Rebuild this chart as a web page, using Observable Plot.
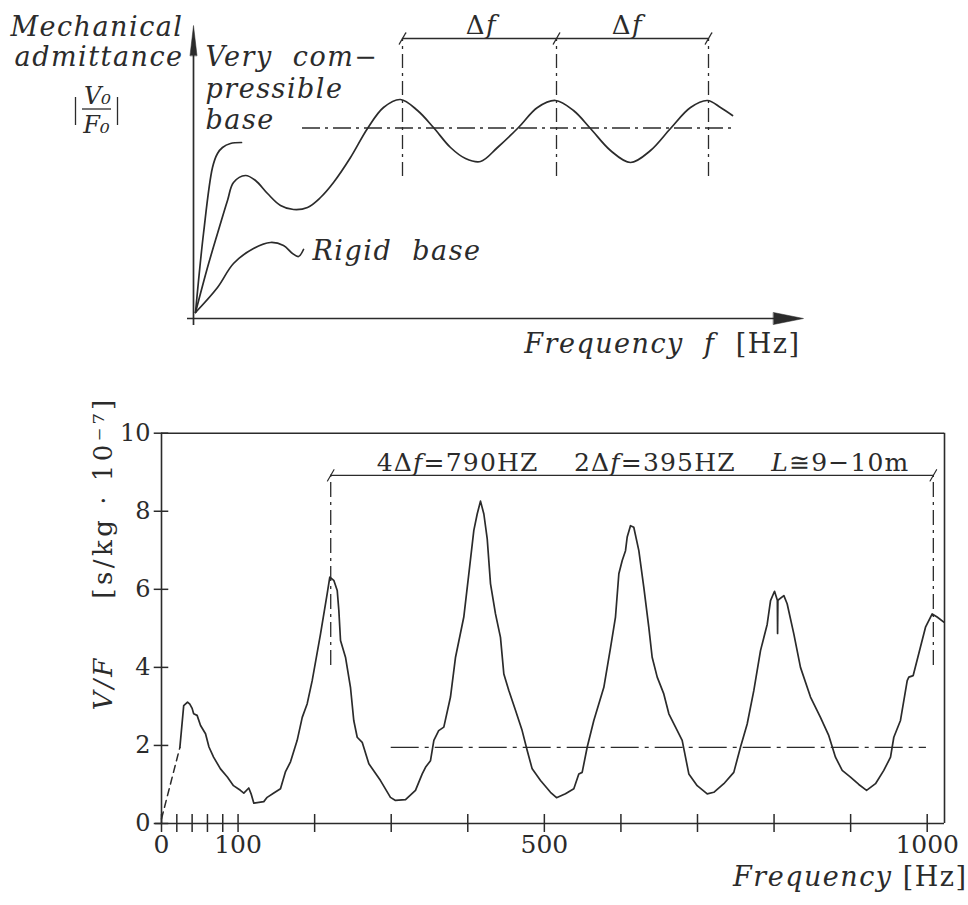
<!DOCTYPE html>
<html><head><meta charset="utf-8">
<script src="https://cdn.jsdelivr.net/npm/d3@7"></script>
<script src="https://cdn.jsdelivr.net/npm/@observablehq/plot@0.6"></script>
<style>
body{margin:0;background:#fff;}
svg{display:block;}
text{white-space:pre;}
</style></head><body><div id="topchart"></div><div id="bottomchart"></div>
<script>
// ===== Top schematic (drawing units: frequency / admittance, arbitrary) =====
const compU  = [2, 10, 19, 24, 29, 37, 48];
const compV  = [6, 85, 151, 165, 171, 175, 176];
const medU   = [2,14,24,34,40,52,62,74,87,100,114,127,140,157,174,190,207,224,240,257,272,287,304,325,344,362,380,397,417,437,457,477,497,514,527,539];
const medV   = [6,51,85,118,136,143,138,125,113,109,111,121,136,161,190,211,219,208,191,171,160,157,171,191,211,218,208,190,168,156,168,190,211,218,211,203];
const rigidU = [2, 24, 40, 60, 77, 90, 99, 105, 110];
const rigidV = [6, 31, 55, 70, 76, 73, 65, 62, 69];
const peakU  = [209, 363, 515];
const peakLineTop = 280, peakLineBottom = 142;
const meanV = 190.5, meanU = [109, 539];
const deltaLabelU = [288, 434];
const axisUmax = 610, axisVmax = 293;

// ===== Bottom: measured mechanical admittance =====
const freq = [24,29,34,37,40,42,46.5,51,57.5,62,68,77,86,94,103,107.5,114,117,120.6,133.6,138,146.7,155.4,162,168.5,177.2,183.8,190.3,196.8,207.7,216.4,219.8,225,229.5,231.6,233.8,240.3,246.8,251.1,255.6,262.1,270.8,286,299,305.6,318.7,331.7,340.5,344.8,351.3,355.7,362,368.7,377.4,384,394.8,401.4,407.9,412.3,416.6,421,425.4,429.7,436.2,442.7,447.1,453.6,462.3,471,477.6,484.1,495,508,515.9,527.6,538.5,545,549.4,556,564.6,577.7,586.4,592.9,597.3,601.7,606,608.2,612.5,616.8,623.4,629.9,636.4,640.8,647.4,656,662.6,671.3,680,688.7,699.6,712.7,721.3,734.4,747.4,756.2,764.9,773.6,782.3,791,795.4,800.6,804.3,804.6,805,812.8,817.1,825.8,834.5,847.6,860.6,871.5,880.2,889,899.8,910.7,920.8,932.5,943.3,952.1,956.4,965.1,973.9,976,981.7,991.2,997.8,1006.5,1013,1021.7];
const vf   = [1.95,3.02,3.11,3.06,2.95,2.81,2.77,2.51,2.30,1.96,1.70,1.40,1.19,0.97,0.85,0.78,0.91,0.76,0.52,0.56,0.67,0.78,0.89,1.33,1.58,2.13,2.72,3.07,3.66,4.86,5.89,6.31,6.23,5.97,5.46,4.69,4.26,3.49,2.64,2.21,2.08,1.53,1.10,0.67,0.59,0.61,0.85,1.27,1.44,1.61,2.13,2.38,2.47,3.24,4.26,5.29,6.40,7.51,7.93,8.26,7.93,7.29,6.14,5.37,4.77,3.83,3.41,2.90,2.38,1.87,1.40,1.10,0.80,0.66,0.76,0.89,1.27,1.31,1.96,2.64,3.49,4.5,5.29,6.40,6.74,6.99,7.34,7.63,7.59,6.99,6.05,5.03,4.26,3.75,3.32,2.81,2.47,2.13,1.27,0.97,0.76,0.80,1.02,1.31,1.96,2.55,3.41,4.43,5.1,5.71,5.95,5.72,4.87,5.72,5.84,5.63,4.86,4.0,3.24,2.72,2.25,1.70,1.36,1.19,1.0,0.85,1.02,1.36,1.70,2.21,2.64,3.66,3.75,3.79,4.52,5.03,5.37,5.29,5.16];
const dashFreq = [0, 24];
const dashVf   = [0.12, 1.95];
const majorTicks = [100,200,300,400,500,600,700,800,900,1000];
const minorTicks = [0,20,40,60,80];
const yTicks  = [0,2,4,6,8,10];
const xLabels = [0,100,500,1000];
const markerFreq = [221, 1008];
const markerTop = 8.92, markerBottom = 4.05;
const meanVf = 1.95, meanFreq = [300, 999];
const frameFmax = 1022.6;

const ink = "#2b2b2b";
const serif = "DejaVu Serif";

const slash = {draw(ctx, l){ ctx.moveTo(0,0); ctx.lineTo(0,-l); }};
const tri = w => ({draw(ctx, l){ ctx.moveTo(-w,0); ctx.lineTo(0,-l); ctx.lineTo(w,0); ctx.closePath(); }});

function richify(svg){
  d3.select(svg).selectAll("text").each(function(){
    const t = this.textContent;
    if (!t.includes("_")) return;
    const parts = t.split("_");
    this.textContent = "";
    parts.forEach((p,i)=>{
      if(!p) return;
      const ts = document.createElementNS("http://www.w3.org/2000/svg","tspan");
      ts.textContent = p;
      if (i % 2) ts.setAttribute("font-style","italic");
      this.appendChild(ts);
    });
  });
}
function spacing(svg, prefix, px){
  d3.select(svg).selectAll("text").filter(function(){ return this.textContent.startsWith(prefix); }).style("letter-spacing", px + "px");
}

// ---------- Top plot ----------
const med = medU.map((u,i)=>({u, v: medV[i]}));
const comp = compU.map((u,i)=>({u, v: compV[i]}));
const rigid = rigidU.map((u,i)=>({u, v: rigidV[i]}));

const labelsLeft = [
  {t:"Mechanical", u:-10, v:283},
  {t:"admittance", u:-10, v:253}
];
const labelsRight = [
  {t:"Very  com−", u:12, v:253},
  {t:"pressible", u:12, v:221},
  {t:"base", u:12, v:190},
  {t:"Rigid  base", u:119, v:59}
];

const topPlot = Plot.plot({
  width: 968, height: 370,
  marginTop: 0, marginRight: 0, marginBottom: 0, marginLeft: 0,
  x: {domain: [-193, 775], range: [0, 968], axis: null},
  y: {domain: [-52, 318], range: [370, 0], axis: null},
  style: {fontFamily: serif, color: ink, background: "#fff"},
  marks: [
    Plot.ruleX([0], {y1: -7, y2: axisVmax - 26, stroke: ink, strokeWidth: 1.7}),
    Plot.ruleY([0], {x1: -6, x2: axisUmax - 26, stroke: ink, strokeWidth: 1.7}),
    Plot.vector([0], {x: 0, y: axisVmax, length: 30, rotate: 0, anchor: "end", shape: tri(3.5), fill: ink, stroke: ink, strokeWidth: 0.5}),
    Plot.vector([0], {x: axisUmax, y: 0, length: 30, rotate: 90, anchor: "end", shape: tri(6), fill: ink, stroke: ink, strokeWidth: 0.5}),
    Plot.line(comp, {x: "u", y: "v", curve: "catmull-rom", stroke: ink, strokeWidth: 1.7}),
    Plot.line(med, {x: "u", y: "v", curve: "catmull-rom", stroke: ink, strokeWidth: 1.7}),
    Plot.line(rigid, {x: "u", y: "v", curve: "catmull-rom", stroke: ink, strokeWidth: 1.7}),
    Plot.ruleY([meanV], {x1: meanU[0], x2: meanU[1], stroke: ink, strokeWidth: 1.3, strokeDasharray: "18,5,3,5"}),
    Plot.ruleX(peakU, {y1: peakLineBottom, y2: peakLineTop, stroke: ink, strokeWidth: 1.3, strokeDasharray: "14,5,3,5"}),
    Plot.ruleY([peakLineTop], {x1: peakU[0], x2: peakU[2], stroke: ink, strokeWidth: 1.3}),
    Plot.vector(peakU, {x: d=>d, y: peakLineTop, length: 13, rotate: 30, anchor: "middle", shape: slash, stroke: ink, strokeWidth: 1.2}),
    Plot.text(deltaLabelU, {x: d=>d, y: 285, text: () => "Δ_f_", fontFamily: serif, fontSize: 26, lineAnchor: "bottom", textAnchor: "middle", fill: ink}),
    Plot.text(labelsLeft, {x: "u", y: "v", text: "t", textAnchor: "end", fontFamily: serif, fontSize: 27, fontStyle: "italic", lineAnchor: "bottom", fill: ink}),
    Plot.text(labelsRight, {x: "u", y: "v", text: "t", textAnchor: "start", fontFamily: serif, fontSize: 27, fontStyle: "italic", lineAnchor: "bottom", fill: ink}),
    // |V0/F0|
    Plot.text(["V₀"], {x: -96, y: 215, text: d=>d, fontFamily: serif, fontSize: 24, fontStyle: "italic", lineAnchor: "bottom", fill: ink}),
    Plot.text(["F₀"], {x: -97, y: 186, text: d=>d, fontFamily: serif, fontSize: 24, fontStyle: "italic", lineAnchor: "bottom", fill: ink}),
    Plot.ruleY([209.5], {x1: -111, x2: -82, stroke: ink, strokeWidth: 1.3}),
    Plot.ruleX([-118, -76], {y1: 193, y2: 221, stroke: ink, strokeWidth: 1.3}),
    Plot.text(["_Frequency  f_  [Hz]"], {x: 607, y: -34, text: d=>d, fontFamily: serif, fontSize: 27, textAnchor: "end", lineAnchor: "bottom", fill: ink})
  ]
});
richify(topPlot);
topPlot.style.letterSpacing = "1.5px";
spacing(topPlot, "V₀", 0);
spacing(topPlot, "F₀", 0);
document.getElementById("topchart").appendChild(topPlot);

// ---------- Bottom plot ----------
const data = freq.map((f,i)=>({f, v: vf[i]}));
const dash = dashFreq.map((f,i)=>({f, v: dashVf[i]}));

const bottomPlot = Plot.plot({
  width: 968, height: 535,
  marginTop: 0, marginRight: 0, marginBottom: 0, marginLeft: 0,
  x: {domain: [0, 1000], range: [161, 926.7], axis: null},
  y: {domain: [0, 10], range: [453, 62.7], axis: null},
  style: {fontFamily: serif, color: ink, background: "#fff"},
  marks: [
    Plot.ruleY([0], {x1: -8, x2: frameFmax, stroke: ink, strokeWidth: 1.6}),
    Plot.ruleY([10], {x1: 0, x2: frameFmax, stroke: ink, strokeWidth: 1.6}),
    Plot.ruleX([0], {y1: 0, y2: 10, stroke: ink, strokeWidth: 1.6}),
    Plot.ruleX([frameFmax], {y1: 0, y2: 10, stroke: ink, strokeWidth: 1.6}),
    Plot.ruleX(majorTicks, {x: d=>d, y1: -0.23, y2: 0.23, stroke: ink, strokeWidth: 1.5}),
    Plot.ruleX(minorTicks, {x: d=>d, y1: -0.23, y2: 0.23, stroke: ink, strokeWidth: 1.5}),
    Plot.ruleY(yTicks, {y: d=>d, x1: -9.5, x2: 9.5, stroke: ink, strokeWidth: 1.5}),
    Plot.text(yTicks, {x: -14.4, y: d=>d, text: d=>String(d), textAnchor: "end", lineAnchor: "middle", fontFamily: serif, fontSize: 24, fill: ink}),
    Plot.text(xLabels, {x: d=>d, y: -0.55, text: d=>String(d), textAnchor: "middle", lineAnchor: "middle", fontFamily: serif, fontSize: 25, fill: ink}),
    Plot.line(dash, {x: "f", y: "v", stroke: ink, strokeWidth: 1.5, strokeDasharray: "7,5"}),
    Plot.line(data, {x: "f", y: "v", stroke: ink, strokeWidth: 1.7}),
    Plot.ruleY([meanVf], {x1: meanFreq[0], x2: meanFreq[1], stroke: ink, strokeWidth: 1.3, strokeDasharray: "28,6,4,6"}),
    Plot.ruleX(markerFreq, {y1: markerBottom, y2: markerTop, stroke: ink, strokeWidth: 1.3, strokeDasharray: "15,5,3,5"}),
    Plot.ruleY([markerTop], {x1: markerFreq[0], x2: markerFreq[1], stroke: ink, strokeWidth: 1.3}),
    Plot.vector(markerFreq, {x: d=>d, y: markerTop, length: 13, rotate: 30, anchor: "middle", shape: slash, stroke: ink, strokeWidth: 1.2}),
    Plot.text(["4Δ_f_=790HZ\u2003 2Δ_f_=395HZ\u2003 _L_≅9−10m"], {x: 629, y: 9.02, text: d=>d, textAnchor: "middle", lineAnchor: "bottom", fontFamily: serif, fontSize: 25, fill: ink}),
    Plot.text(["V/F"], {x: -75.7, y: 3.6, text: d=>d, rotate: -90, textAnchor: "middle", lineAnchor: "middle", fontFamily: serif, fontStyle: "italic", fontSize: 26, fill: ink}),
    Plot.text(["[s/kg · 10⁻⁷]"], {x: -75.7, y: 8.35, text: d=>d, rotate: -90, textAnchor: "middle", lineAnchor: "middle", fontFamily: serif, fontSize: 26, fill: ink}),
    Plot.text(["_Frequency_ [Hz]"], {x: 1052.6, y: -1.6, text: d=>d, textAnchor: "end", lineAnchor: "bottom", fontFamily: serif, fontSize: 27, fill: ink})
  ]
});
richify(bottomPlot);
spacing(bottomPlot, "4Δ", 1.2);
spacing(bottomPlot, "V/F", 3);
spacing(bottomPlot, "[s/kg", 3.5);
spacing(bottomPlot, "Frequency", 1.5);
document.getElementById("bottomchart").appendChild(bottomPlot);
</script>
</body></html>
